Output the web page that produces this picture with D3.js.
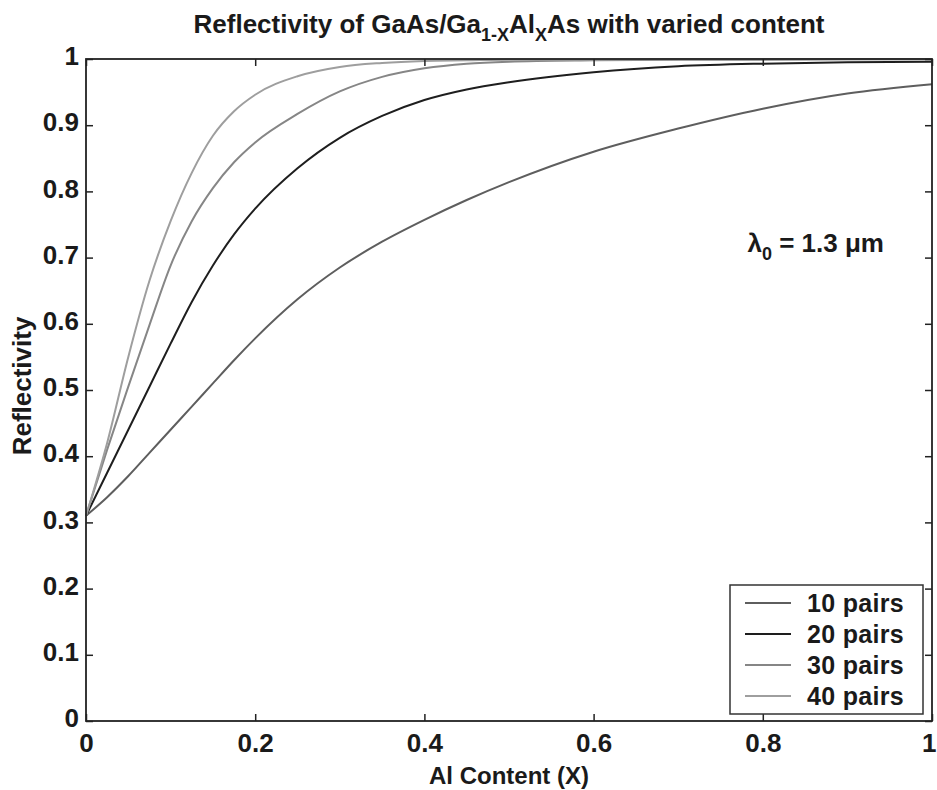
<!DOCTYPE html>
<html lang="en">
<head>
    <meta charset="UTF-8">
    <title>Reflectivity of GaAs/GaAlAs</title>
    <script src="https://d3js.org/d3.v7.min.js"></script>
    <style>
        body { margin: 0; background: #fff; }
        svg text { font-family: "Liberation Sans", Arial, sans-serif; font-weight: bold; fill: #1a1a1a; }
    </style>
</head>
<body>
    <div id="chart"></div>
    <script>
        // Al content sample points
        const alContent = [0, 0.025, 0.05, 0.075, 0.1, 0.125, 0.15, 0.175, 0.2, 0.25, 0.3, 0.35, 0.4, 0.45, 0.5, 0.6, 0.7, 0.8, 0.9, 1.0];
        // reflectivity
        const pairs10 = [0.31, 0.338, 0.37, 0.405, 0.44, 0.475, 0.51, 0.545, 0.578, 0.637, 0.685, 0.724, 0.757, 0.787, 0.814, 0.86, 0.895, 0.925, 0.948, 0.962];
        const pairs20 = [0.31, 0.375, 0.44, 0.505, 0.57, 0.633, 0.688, 0.735, 0.774, 0.835, 0.881, 0.914, 0.938, 0.954, 0.965, 0.98, 0.989, 0.993, 0.995, 0.996];
        const pairs30 = [0.31, 0.41, 0.505, 0.598, 0.688, 0.755, 0.805, 0.844, 0.874, 0.917, 0.951, 0.973, 0.986, 0.993, 0.996, 0.998, 0.999, 0.999, 0.9995, 0.9995];
        const pairs40 = [0.31, 0.42, 0.55, 0.665, 0.755, 0.828, 0.884, 0.921, 0.946, 0.974, 0.988, 0.994, 0.997, 0.998, 0.999, 0.999, 0.9995, 0.9995, 0.9995, 0.9995];
        const seriesNames = ["10 pairs", "20 pairs", "30 pairs", "40 pairs"];
        const seriesColors = ["#5e5e5e", "#1e1e1e", "#868686", "#9e9e9e"];
        const xTicks = [0, 0.2, 0.4, 0.6, 0.8, 1];
        const yTicks = [0, 0.1, 0.2, 0.3, 0.4, 0.5, 0.6, 0.7, 0.8, 0.9, 1];

        const allSeries = [pairs10, pairs20, pairs30, pairs40];

        const width = 937, height = 790;
        const margin = { top: 59, right: 5, bottom: 69, left: 86 };
        const plotW = width - margin.left - margin.right;
        const plotH = height - margin.top - margin.bottom;

        const svg = d3.select("#chart").append("svg")
            .attr("width", width)
            .attr("height", height);

        const g = svg.append("g")
            .attr("transform", "translate(" + margin.left + "," + margin.top + ")");

        const x = d3.scaleLinear().domain([0, 1]).range([0, plotW]);
        const y = d3.scaleLinear().domain([0, 1]).range([plotH, 0]);

        // curves
        const line = d3.line()
            .x((d, i) => x(alContent[i]))
            .y(d => y(d))
            .curve(d3.curveMonotoneX);

        g.selectAll(".curve")
            .data(allSeries)
            .enter().append("path")
            .attr("class", "curve")
            .attr("d", line)
            .attr("fill", "none")
            .attr("stroke", (d, i) => seriesColors[i])
            .attr("stroke-width", 2);

        // axes, ticks pointing inward like matlab
        const fmt = d => d === 0 || d === 1 ? String(d) : d3.format(".1f")(d);

        const xAxis = g.append("g")
            .attr("transform", "translate(0," + plotH + ")")
            .call(d3.axisBottom(x).tickValues(xTicks).tickFormat(fmt).tickSizeInner(-7).tickSizeOuter(0).tickPadding(13));
        const yAxis = g.append("g")
            .call(d3.axisLeft(y).tickValues(yTicks).tickFormat(fmt).tickSizeInner(-7).tickSizeOuter(0).tickPadding(7));
        g.append("g")
            .call(d3.axisTop(x).tickValues(xTicks).tickFormat("").tickSizeInner(-7).tickSizeOuter(0));
        g.append("g")
            .attr("transform", "translate(" + plotW + ",0)")
            .call(d3.axisRight(y).tickValues(yTicks).tickFormat("").tickSizeInner(-7).tickSizeOuter(0));

        g.selectAll(".domain").remove();
        g.selectAll(".tick line").attr("stroke", "#222").attr("stroke-width", 1.5);
        xAxis.selectAll("text").style("font-size", "26px").attr("fill", "#1a1a1a");
        // keep the last label inside the page
        xAxis.selectAll("text").filter(d => d === 1).attr("text-anchor", "end").attr("x", 4);
        yAxis.selectAll("text").style("font-size", "26px").attr("fill", "#1a1a1a").attr("dy", "0.22em");

        g.append("rect")
            .attr("width", plotW)
            .attr("height", plotH)
            .attr("fill", "none")
            .attr("stroke", "#222")
            .attr("stroke-width", 1.8);

        // title
        const title = svg.append("text")
            .attr("x", margin.left + plotW / 2)
            .attr("y", 33)
            .attr("text-anchor", "middle")
            .style("font-size", "26px");
        title.append("tspan").text("Reflectivity of GaAs/Ga");
        title.append("tspan").attr("dy", 8).style("font-size", "18px").text("1-X");
        title.append("tspan").attr("dy", -8).text("Al");
        title.append("tspan").attr("dy", 8).style("font-size", "18px").text("X");
        title.append("tspan").attr("dy", -8).text("As with varied content");

        // axis labels
        svg.append("text")
            .attr("x", margin.left + plotW / 2)
            .attr("y", 784)
            .attr("text-anchor", "middle")
            .style("font-size", "24px")
            .text("Al Content (X)");

        svg.append("text")
            .attr("transform", "translate(31," + (margin.top + plotH / 2 - 4) + ") rotate(-90)")
            .attr("text-anchor", "middle")
            .style("font-size", "26px")
            .text("Reflectivity");

        // wavelength note
        const note = svg.append("text")
            .attr("x", 884)
            .attr("y", 252)
            .attr("text-anchor", "end")
            .style("font-size", "26px");
        note.append("tspan").text("λ");
        note.append("tspan").attr("dy", 8).style("font-size", "18px").text("0");
        note.append("tspan").attr("dy", -8).text(" = 1.3 μm");

        // legend
        const legend = svg.append("g").attr("transform", "translate(730,585)");
        legend.append("rect")
            .attr("width", 193)
            .attr("height", 129)
            .attr("fill", "#fff")
            .attr("stroke", "#333")
            .attr("stroke-width", 1.5);
        const rows = legend.selectAll(".row")
            .data(seriesNames)
            .enter().append("g")
            .attr("transform", (d, i) => "translate(0," + (18 + i * 31) + ")");
        rows.append("line")
            .attr("x1", 15).attr("x2", 61)
            .attr("stroke", (d, i) => seriesColors[i])
            .attr("stroke-width", 2);
        rows.append("text")
            .attr("x", 77)
            .attr("dy", "0.36em")
            .style("font-size", "25px")
            .style("letter-spacing", "0.3px")
            .text(d => d);
    </script>
</body>
</html>
